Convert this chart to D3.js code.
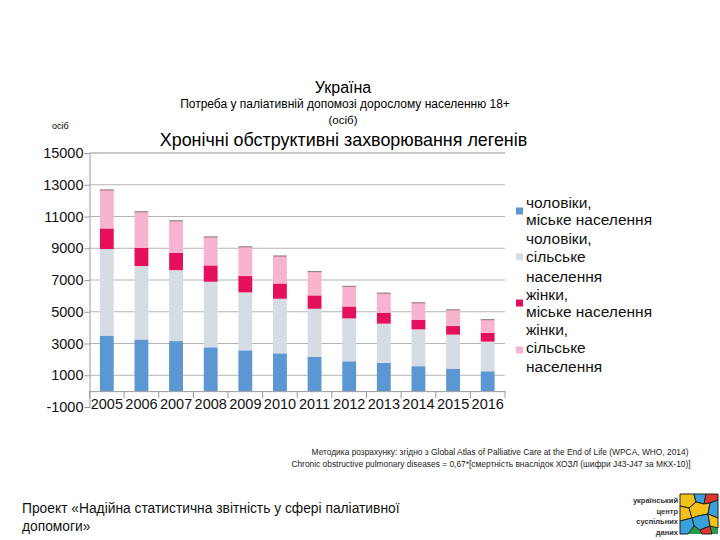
<!DOCTYPE html>
<html><head><meta charset="utf-8">
<script src="https://cdn.jsdelivr.net/npm/d3@7"></script>
<style>body{margin:0;background:#fff;} svg{font-family:"Liberation Sans",Arial,sans-serif;}</style>
</head><body>
<script>
const years = ["2005","2006","2007","2008","2009","2010","2011","2012","2013","2014","2015","2016"];
const menUrban   = [3500,3250,3150,2760,2570,2380,2150,1880,1780,1570,1420,1250];
const menRural   = [5450,4630,4470,4130,3650,3440,3040,2700,2470,2320,2140,1870];
const womenUrban = [1300,1150,1090,1030,1030,960,840,750,690,610,540,550];
const womenRural = [2450,2300,2050,1820,1870,1760,1530,1300,1260,1090,1050,860];
const seriesNames = [["чоловіки,","міське населення"],["чоловіки,","сільське","населення"],["жінки,","міське населення"],["жінки,","сільське","населення"]];
const colors = ["#5b97d3","#d6dce4","#e5105c","#f8b4cf"];
const yTicks = [-1000,1000,3000,5000,7000,9000,11000,13000,15000];

const W=720,H=540;
const svg = d3.select("body").append("svg").attr("width",W).attr("height",H);

const x = d3.scaleBand().domain(years).range([89.5,505]).paddingInner(0.6).paddingOuter(0.3);
const y = d3.scaleLinear().domain([-1000,15000]).range([407,153]);

// gridlines
svg.append("g").selectAll("line").data(yTicks.filter(d=>d>-1000)).join("line")
  .attr("x1",89.5).attr("x2",505).attr("y1",d=>y(d)).attr("y2",d=>y(d))
  .attr("stroke",d=>d===15000?"#c8c8c8":"#b4b4b4").attr("stroke-width",d=>d===15000?2:1);

// stacked bars
const rows = years.map((yr,i)=>({year:yr,s0:menUrban[i],s1:menRural[i],s2:womenUrban[i],s3:womenRural[i]}));
const stack = d3.stack().keys(["s0","s1","s2","s3"])(rows);
svg.append("g").selectAll("g").data(stack).join("g").attr("fill",(d,i)=>colors[i])
  .selectAll("rect").data(d=>d).join("rect")
  .attr("x",d=>x(d.data.year)).attr("width",x.bandwidth())
  .attr("y",d=>y(d[1])).attr("height",d=>y(d[0])-y(d[1]));
// thin dark top edge on each bar
svg.append("g").selectAll("line").data(stack[3]).join("line")
  .attr("x1",d=>x(d.data.year)).attr("x2",d=>x(d.data.year)+x.bandwidth())
  .attr("y1",d=>y(d[1])+0.5).attr("y2",d=>y(d[1])+0.5).attr("stroke","#8a7a80").attr("stroke-width",1);

// y axis
const yAxis = d3.axisLeft(y).tickValues(yTicks).tickSize(5).tickFormat(d=>String(d));
const gy = svg.append("g").attr("transform","translate(89.5,0)").call(yAxis);
gy.select(".domain").attr("stroke","#999");
gy.selectAll(".tick line").attr("stroke","#999");
gy.selectAll("text").attr("font-size",14.5).attr("fill","#111").attr("x",-6);

// x axis at zero
const xAxis = d3.axisBottom(x).tickSize(0).tickPadding(4);
const gx = svg.append("g").attr("transform",`translate(0,${y(0)})`).call(xAxis);
gx.select(".domain").attr("stroke","#999");
gx.selectAll("text").attr("font-size",14.5).attr("fill","#111").attr("dy","0.95em");
// category boundary ticks
const bounds = years.map(d=>x(d)-x.step()*x.paddingInner()/2).concat([505]);
svg.append("g").selectAll("line").data(bounds).join("line")
  .attr("x1",d=>d).attr("x2",d=>d).attr("y1",y(0)).attr("y2",y(0)+7).attr("stroke","#999");

// titles
svg.append("text").attr("x",343).attr("y",93).attr("text-anchor","middle").attr("font-size",16).text("Україна");
svg.append("text").attr("x",345).attr("y",108).attr("text-anchor","middle").attr("font-size",12).text("Потреба у паліативній допомозі дорослому населенню 18+");
svg.append("text").attr("x",343).attr("y",124).attr("text-anchor","middle").attr("font-size",11.5).text("(осіб)");
svg.append("text").attr("x",52).attr("y",129).attr("font-size",9).text("осіб");
svg.append("text").attr("x",343.5).attr("y",146).attr("text-anchor","middle").attr("font-size",17.9).text("Хронічні обструктивні захворювання легенів");

// legend
const legLines = [[203,220],[239,257,277],[295,312],[330,348,367]];
const sqY = [211,257,303,350];
seriesNames.forEach((names,i)=>{
  svg.append("rect").attr("x",516).attr("y",sqY[i]-3.5).attr("width",7).attr("height",7).attr("fill",colors[i]);
  names.forEach((t,j)=>{
    svg.append("text").attr("x",526).attr("y",legLines[i][j]+5).attr("font-size",15.5).attr("fill","#111").text(t);
  });
});

// footnote
svg.append("text").attr("x",500).attr("y",455).attr("text-anchor","middle").attr("font-size",8.4).attr("fill","#222")
  .text("Методика розрахунку: згідно з Global Atlas of Palliative Care at the End of Life (WPCA, WHO, 2014)");
svg.append("text").attr("x",491).attr("y",467).attr("text-anchor","middle").attr("font-size",8.4).attr("fill","#222")
  .text("Chronic obstructive pulmonary diseases = 0,67*[смертність внаслідок ХОЗЛ (шифри J43-J47 за МКХ-10)]");

// project text
svg.append("text").attr("x",22).attr("y",513).attr("font-size",13.8).attr("fill","#111").text("Проект «Надійна статистична звітність у сфері паліативної");
svg.append("text").attr("x",22).attr("y",531).attr("font-size",13.8).attr("fill","#111").text("допомоги»");

// logo
const logoText = ["український","центр","суспільних","даних"];
logoText.forEach((t,i)=>{
  svg.append("text").attr("x",678).attr("y",503+i*10.5).attr("text-anchor","end").attr("font-size",7.5).attr("font-weight","bold").attr("fill","#333").text(t);
});
const lg = svg.append("g").attr("transform","translate(680,494)");
lg.append("rect").attr("width",38).attr("height",40).attr("fill","#2b9a4a");
const polys = [
  ["#f2c21b","0,0 14,0 16,8 9,14 0,12"],
  ["#3aa0dc","14,0 26,0 24,10 16,8"],
  ["#d9382e","26,0 38,0 38,6 30,9 24,10"],
  ["#f2c21b","0,12 9,14 12,24 0,27"],
  ["#f2c21b","16,8 24,10 30,9 28,20 18,22 12,24 9,14"],
  ["#3aa0dc","30,9 38,6 38,24 28,20"],
  ["#3aa0dc","12,24 18,22 28,20 30,32 20,36 14,32"],
  ["#f2c21b","28,20 38,24 38,34 30,32"],
  ["#3aa0dc","0,27 12,24 14,32 8,40 0,40"],
  ["#d9382e","20,36 30,32 32,40 22,40"]
];
polys.forEach(p=>lg.append("polygon").attr("points",p[1]).attr("fill",p[0]).attr("stroke","#222").attr("stroke-width",1));
</script>
</body></html>
